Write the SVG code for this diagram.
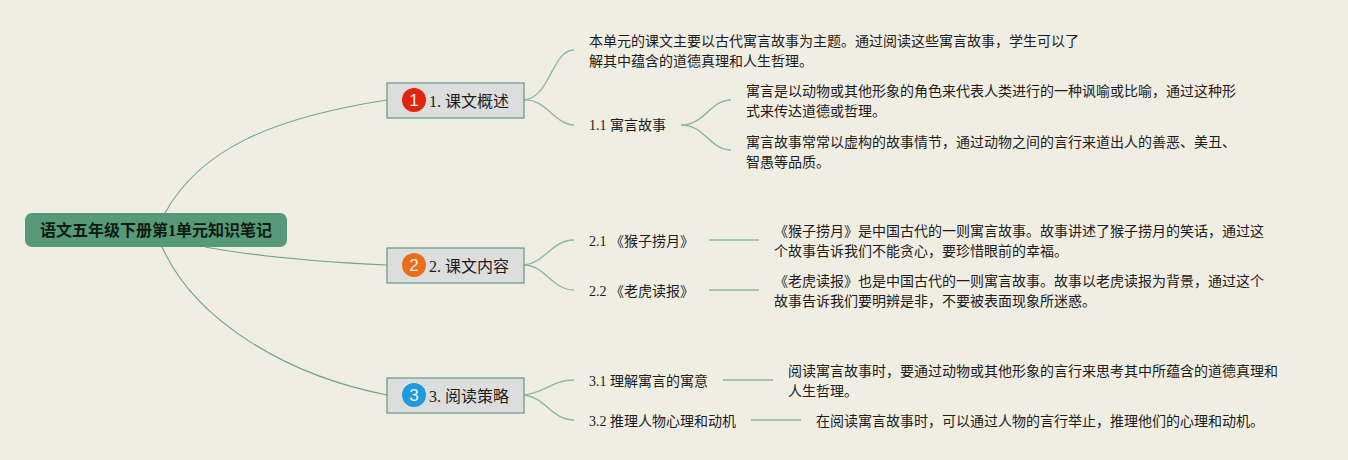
<svg xmlns="http://www.w3.org/2000/svg" width="1348" height="460" viewBox="0 0 1348 460">
<style>
text{font-family:"Liberation Serif","Noto Sans CJK SC",serif;fill:#1c1c1c}
.t{font-size:14px}
.b{font-size:16px}
.r{font-size:16px;font-weight:bold;fill:#0e1a12}
.box{fill:#dcdedd;stroke:#5f9a88;stroke-width:1.2}
.c{fill:none;stroke:#6fa48f;stroke-width:1.1}
.s{fill:none;stroke:#8db8a4;stroke-width:1.4}
.n{font-family:"Liberation Sans",sans-serif;font-size:17px;fill:#f3efe6;text-anchor:middle}
</style>
<rect width="1348" height="460" fill="#f0ede3"/>
<g id="connectors">
<path class="c" d="M165 213C200 150 270 118 387 100"/>
<path class="c" d="M205 247C260 257 320 262 387 265"/>
<path class="c" d="M162 247C195 320 285 375 387 395"/>
<path class="s" d="M524 100C550 98 552 50 574 50"/>
<path class="s" d="M524 100C545 98 555 125 574 125"/>
<path class="s" d="M681 125C705 125 710 100 731 100"/>
<path class="s" d="M681 125C705 125 710 150 731 150"/>
<path class="s" d="M524 265C545 263 552 240 574 240"/>
<path class="s" d="M524 265C545 265 552 290 574 290"/>
<path class="s" d="M709 240H759"/>
<path class="s" d="M709 290H759"/>
<path class="s" d="M524 395C545 393 552 380 574 380"/>
<path class="s" d="M524 395C545 397 552 420 574 420"/>
<path class="s" d="M723 380H773"/>
<path class="s" d="M751 420H801"/>
</g>
<g id="root">
<rect x="25" y="213" width="262" height="34" rx="7" fill="#569a79"/>
<text class="r" x="40" y="236">语文五年级下册第1单元知识笔记</text>
</g>
<g id="node-1">
<rect class="box" x="387" y="83" width="137" height="35"/>
<circle cx="414" cy="100" r="12" fill="#e3230b"/>
<text class="n" x="414" y="106">1</text>
<text class="b" x="429" y="107">1. 课文概述</text>
</g>
<g id="node-2">
<rect class="box" x="387" y="248" width="137" height="35"/>
<circle cx="414" cy="265" r="12" fill="#e96e1b"/>
<text class="n" x="414" y="271">2</text>
<text class="b" x="429" y="272">2. 课文内容</text>
</g>
<g id="node-3">
<rect class="box" x="387" y="378" width="137" height="35"/>
<circle cx="414" cy="395" r="12" fill="#1e9ae0"/>
<text class="n" x="414" y="401">3</text>
<text class="b" x="429" y="402">3. 阅读策略</text>
</g>
<g id="overview"><text class="t" x="589" y="46">本单元的课文主要以古代寓言故事为主题。通过阅读这些寓言故事，学生可以了</text><text class="t" x="589" y="66">解其中蕴含的道德真理和人生哲理。</text></g>
<g id="n11"><text class="t" x="589" y="130">1.1 寓言故事</text></g>
<g id="n11a"><text class="t" x="746" y="96">寓言是以动物或其他形象的角色来代表人类进行的一种讽喻或比喻，通过这种形</text><text class="t" x="746" y="116">式来传达道德或哲理。</text></g>
<g id="n11b"><text class="t" x="746" y="147">寓言故事常常以虚构的故事情节，通过动物之间的言行来道出人的善恶、美丑、</text><text class="t" x="746" y="167">智愚等品质。</text></g>
<g id="n21"><text class="t" x="589" y="246">2.1 《猴子捞月》</text></g>
<g id="n21a"><text class="t" x="774" y="236">《猴子捞月》是中国古代的一则寓言故事。故事讲述了猴子捞月的笑话，通过这</text><text class="t" x="774" y="256">个故事告诉我们不能贪心，要珍惜眼前的幸福。</text></g>
<g id="n22"><text class="t" x="589" y="296">2.2 《老虎读报》</text></g>
<g id="n22a"><text class="t" x="774" y="286">《老虎读报》也是中国古代的一则寓言故事。故事以老虎读报为背景，通过这个</text><text class="t" x="774" y="306">故事告诉我们要明辨是非，不要被表面现象所迷惑。</text></g>
<g id="n31"><text class="t" x="589" y="386">3.1 理解寓言的寓意</text></g>
<g id="n31a"><text class="t" x="788" y="376">阅读寓言故事时，要通过动物或其他形象的言行来思考其中所蕴含的道德真理和</text><text class="t" x="788" y="396">人生哲理。</text></g>
<g id="n32"><text class="t" x="589" y="426">3.2 推理人物心理和动机</text></g>
<g id="n32a"><text class="t" x="816" y="426">在阅读寓言故事时，可以通过人物的言行举止，推理他们的心理和动机。</text></g>
</svg>
